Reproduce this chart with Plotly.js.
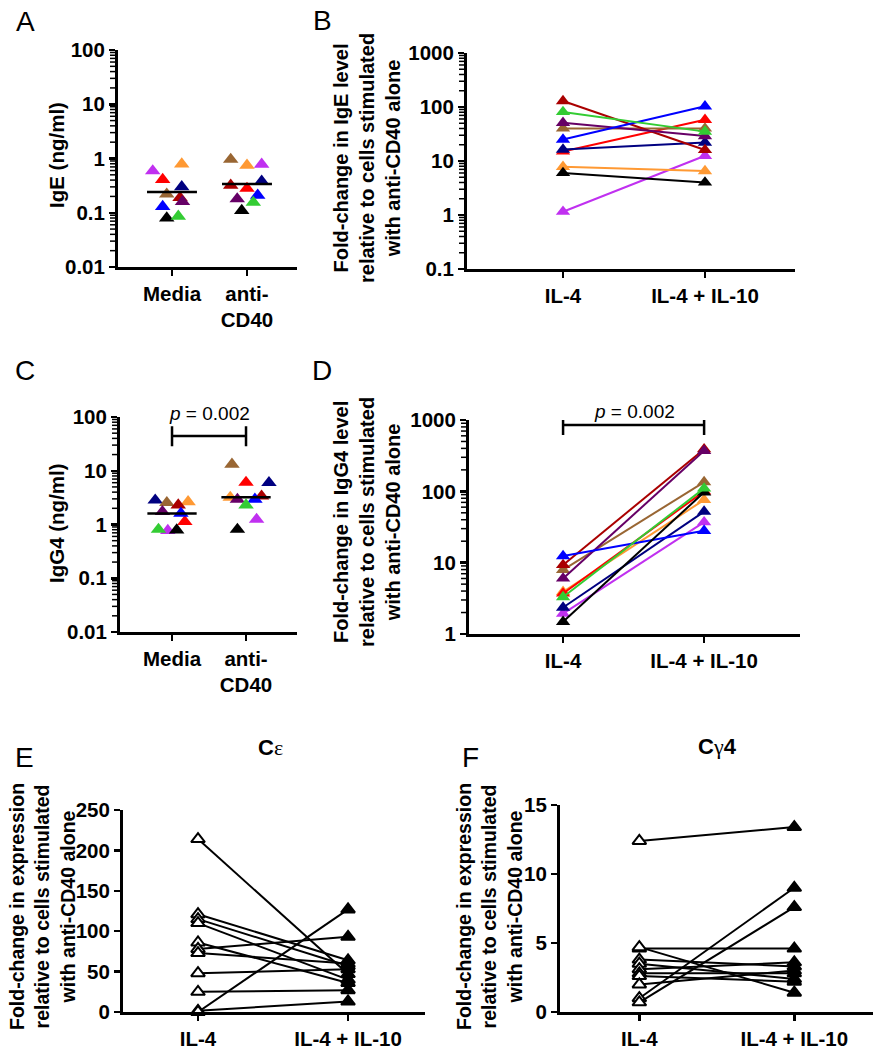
<!DOCTYPE html>
<html>
<head>
<meta charset="utf-8">
<script src="https://cdn.plot.ly/plotly-3.0.1.min.js"></script>
<style>html,body{margin:0;padding:0;background:#fff;}#chart{width:881px;height:1050px;}</style>
</head>
<body>
<div id="chart"></div>
<script>
// ---------- donors (colour per donor, same in panels A-D) ----------
const donorNames  = ['violet','orange','red','navy','brown','darkred','purple','blue','black','green'];
const donorColors = ['#C030F0','#FF9933','#FF0000','#000080','#996633','#AA0000','#660066','#0000FF','#000000','#33CC33'];

// ---------- Panel A: IgE (ng/ml) ----------
const catsAC = ['Media', 'anti-<br>CD40'];
const igeMedia     = [0.59, 0.79, 0.41, 0.30, 0.22, 0.19, 0.16, 0.13, 0.080, 0.086];
const igeMediaJit  = [-0.257, 0.13, -0.124, 0.13, -0.07, 0.107, 0.14, -0.124, -0.07, 0.084];
const igeCD40      = [0.78, 0.75, 0.28, 0.38, 0.96, 0.32, 0.18, 0.21, 0.11, 0.155];
const igeCD40Jit   = [0.196, 0, 0, 0.196, -0.217, -0.217, -0.13, 0.143, -0.07, 0.084];
const igeMedians   = [0.24, 0.34];

// ---------- Panel C: IgG4 (ng/ml) ----------
const igg4Media    = [0.77, 2.65, 1.13, 2.84, 2.54, 2.30, 1.73, 1.61, 0.79, 0.81];
const igg4MediaJit = [-0.057, 0.217, 0.173, -0.227, -0.07, 0.084, -0.13, 0.12, 0.063, -0.183];
const igg4CD40     = [1.24, 3.19, 6.05, 6.0, 13.2, 3.37, 2.93, 2.95, 0.81, 2.30];
const igg4CD40Jit  = [0.143, -0.213, 0, 0.31, -0.19, 0.21, -0.116, 0.12, -0.116, 0];
const igg4Medians  = [1.6, 3.2];
const bracketC     = {low: 28.5, mid: 44.4, high: 67};

// ---------- Panels B & D: fold change ----------
const catsStim = ['IL-4', 'IL-4 + IL-10'];
const igeFoldIL4    = [1.15, 7.8, 15, 16.3, 40, 129, 51, 25, 6.0, 81];
const igeFoldIL410  = [12.5, 6.5, 58, 22, 40, 16, 29, 103, 4.0, 35];
const igg4FoldIL4   = [1.93, 3.9, 3.7, 2.35, 7.9, 9.3, 6.0, 12.4, 1.48, 3.3];
const igg4FoldIL410 = [37, 76, 100, 52, 135, 390, 370, 28, 97, 110];
const bracketD      = {low: 616, mid: 851, high: 1000};

// ---------- Panels E & F: expression fold change ----------
const ceIL4    = [214, 121, 115, 110, 86, 78, 73, 48, 25, 1.5, 0];
const ceIL410  = [47, 64, 57, 40, 36, 93, 60, 53, 27, 13, 127];
const cg4IL4   = [12.4, 4.6, 4.7, 3.8, 3.5, 3.1, 2.8, 2.6, 2.0, 1.0, 0.7];
const cg4IL410 = [13.4, 4.6, 1.4, 3.3, 2.4, 3.6, 2.8, 2.2, 3.0, 9.0, 7.6];

const logTicksA = [0.01, 0.1, 1, 10, 100];
const logTicksB = [0.1, 1, 10, 100, 1000];
const logTicksD = [1, 10, 100, 1000];
const minorDigits = [2, 3, 4, 5, 6, 7, 8, 9];

// ---------- helpers ----------
const W = 881, H = 1050;
const FONT = 'Liberation Sans, Arial, sans-serif';
const TICKSIZE = 20.5;
const px = v => v / W;
const py = v => 1 - v / H;

function minorVals(majors) {
  const out = [];
  majors.slice(0, -1).forEach(m => minorDigits.forEach(d => out.push(+(m * d).toPrecision(3))));
  return out;
}

function yLog(domain, lo, hi, vals, anchor) {
  return {
    domain: domain, anchor: anchor, type: 'log',
    range: [Math.log10(lo), Math.log10(hi)],
    tickmode: 'array', tickvals: vals, ticktext: vals.map(v => String(v)),
    ticks: 'outside', ticklen: 6, tickwidth: 2.5, tickcolor: '#000',
    showline: true, linewidth: 3, linecolor: '#000',
    showgrid: false, zeroline: false,
    tickfont: {family: FONT, size: TICKSIZE, color: '#000', weight: 'bold'},
    fixedrange: true
  };
}
function yLin(domain, lo, hi, dtick, anchor) {
  return {
    domain: domain, anchor: anchor, range: [lo, hi], dtick: dtick, tick0: 0,
    ticks: 'outside', ticklen: 6, tickwidth: 2.5, tickcolor: '#000',
    showline: true, linewidth: 3, linecolor: '#000',
    showgrid: false, zeroline: false,
    tickfont: {family: FONT, size: TICKSIZE, color: '#000', weight: 'bold'},
    fixedrange: true
  };
}
function xCat(domain, range, texts, anchor) {
  return {
    domain: domain, anchor: anchor, range: range,
    tickmode: 'array', tickvals: [1, 2], ticktext: texts,
    ticks: 'outside', ticklen: 6, tickwidth: 2.5, tickcolor: '#000',
    showline: true, linewidth: 3, linecolor: '#000',
    showgrid: false, zeroline: false,
    tickfont: {family: FONT, size: TICKSIZE, color: '#000', weight: 'bold'},
    fixedrange: true
  };
}

const traces = [];

// dot plots (A, C)
function dotPanel(xa, ya, vals1, jit1, vals2, jit2, medians) {
  traces.push({type: 'scatter', mode: 'markers', xaxis: xa, yaxis: ya,
    x: jit1.map(j => 1 + j), y: vals1,
    marker: {symbol: 'triangle-up', size: 13.5, color: donorColors, line: {width: 0}}, cliponaxis: false});
  traces.push({type: 'scatter', mode: 'markers', xaxis: xa, yaxis: ya,
    x: jit2.map(j => 2 + j), y: vals2,
    marker: {symbol: 'triangle-up', size: 13.5, color: donorColors, line: {width: 0}}, cliponaxis: false});
  medians.forEach((m, i) => {
    traces.push({type: 'scatter', mode: 'lines', xaxis: xa, yaxis: ya,
      x: [i + 1 - 0.333, i + 1 + 0.333], y: [m, m],
      line: {color: '#000', width: 2.5}});
  });
}
dotPanel('x', 'y', igeMedia, igeMediaJit, igeCD40, igeCD40Jit, igeMedians);
dotPanel('x3', 'y3', igg4Media, igg4MediaJit, igg4CD40, igg4CD40Jit, igg4Medians);

// paired coloured lines (B, D)
function pairedPanel(xa, ya, a, b) {
  donorNames.forEach((n, i) => {
    traces.push({type: 'scatter', mode: 'lines+markers', xaxis: xa, yaxis: ya,
      x: [1, 2], y: [a[i], b[i]], name: n,
      line: {color: donorColors[i], width: 2},
      marker: {symbol: 'triangle-up', size: 12.5, color: donorColors[i]}, cliponaxis: false});
  });
}
pairedPanel('x2', 'y2', igeFoldIL4, igeFoldIL410);
pairedPanel('x4', 'y4', igg4FoldIL4, igg4FoldIL410);

// brackets
function bracket(xa, ya, b) {
  traces.push({type: 'scatter', mode: 'lines', xaxis: xa, yaxis: ya,
    x: [1, 1, 1, 2, 2, 2], y: [b.high, b.low, b.mid, b.mid, b.high, b.low],
    line: {color: '#000', width: 2.5}});
}
bracket('x3', 'y3', bracketC);
bracket('x4', 'y4', bracketD);

// black paired (E, F)
function bwPanel(xa, ya, a, b) {
  a.forEach((v, i) => {
    traces.push({type: 'scatter', mode: 'lines+markers', xaxis: xa, yaxis: ya,
      x: [1, 2], y: [v, b[i]],
      line: {color: '#000', width: 2},
      marker: {symbol: 'triangle-up', size: 12, color: ['#fff', '#000'], line: {color: '#000', width: 2}},
      cliponaxis: false});
  });
}
bwPanel('x5', 'y5', ceIL4, ceIL410);
bwPanel('x6', 'y6', cg4IL4, cg4IL410);

// ---------- layout ----------
const domA = {x: [px(118), px(297)], y: [py(267), py(50)]};
const domB = {x: [px(467), px(795)], y: [py(269), py(53)]};
const domC = {x: [px(120), px(297)], y: [py(632), py(417)]};
const domD = {x: [px(469), px(800)], y: [py(634), py(420)]};
const layout = {
  width: W, height: H, margin: {l: 0, r: 0, t: 0, b: 0},
  paper_bgcolor: '#fff', plot_bgcolor: 'rgba(0,0,0,0)', showlegend: false,
  font: {family: FONT, color: '#000'},
  xaxis:  xCat(domA.x, [0.28, 2.667], catsAC, 'y'),
  yaxis:  yLog(domA.y, 0.01, 100, logTicksA, 'x'),
  xaxis2: xCat(domB.x, [0.324, 2.634], catsStim, 'y2'),
  yaxis2: yLog(domB.y, 0.1, 1000, logTicksB, 'x2'),
  xaxis3: xCat(domC.x, [0.297, 2.689], catsAC, 'y3'),
  yaxis3: yLog(domC.y, 0.01, 100, logTicksA, 'x3'),
  xaxis4: xCat(domD.x, [0.333, 2.68], catsStim, 'y4'),
  yaxis4: yLog(domD.y, 1, 1000, logTicksD, 'x4'),
  xaxis5: xCat([px(123), px(425)], [0.5, 2.513], catsStim, 'y5'),
  yaxis5: yLin([py(1012), py(810)], 0, 250, 50, 'x5'),
  xaxis6: xCat([px(560), px(873)], [0.488, 2.508], catsStim, 'y6'),
  yaxis6: yLin([py(1012), py(805)], 0, 15, 5, 'x6'),
  annotations: [],
  shapes: []
};

// minor log-axis ticks as paper-space shapes placed on each axis' log scale
function minorTickShapes(dom, lo, hi, majors) {
  const l0 = Math.log10(lo), l1 = Math.log10(hi);
  const xr = dom.x[0];
  minorVals(majors).forEach(v => {
    const y = dom.y[0] + (Math.log10(v) - l0) / (l1 - l0) * (dom.y[1] - dom.y[0]);
    layout.shapes.push({type: 'line', xref: 'paper', yref: 'paper',
      x0: xr - px(8), x1: xr - px(1), y0: y, y1: y,
      line: {color: '#000', width: 1.5}});
  });
}
minorTickShapes(domA, 0.01, 100, logTicksA);
minorTickShapes(domB, 0.1, 1000, logTicksB);
minorTickShapes(domC, 0.01, 100, logTicksA);
minorTickShapes(domD, 1, 1000, logTicksD);

function ann(text, x, y, size, opts) {
  layout.annotations.push(Object.assign({
    text: text, xref: 'paper', yref: 'paper', x: px(x), y: py(y),
    xanchor: 'center', yanchor: 'middle', showarrow: false,
    font: {family: FONT, size: size, color: '#000'}
  }, opts || {}));
}
// panel letters
ann('A', 25, 22, 28); ann('B', 322, 20, 28);
ann('C', 25, 370, 28); ann('D', 322, 370, 28);
ann('E', 24, 757, 28); ann('F', 470, 757, 28);
// axis titles
const foldIgE  = '<b>Fold-change in IgE level<br>relative to cells stimulated<br>with anti-CD40 alone</b>';
const foldIgG4 = '<b>Fold-change in IgG4 level<br>relative to cells stimulated<br>with anti-CD40 alone</b>';
const foldExpr = '<b>Fold-change in expression<br>relative to cells stimulated<br>with anti-CD40 alone</b>';
ann('<b>IgE (ng/ml)</b>', 56, 155, 20.5, {textangle: -90});
ann('<b>IgG4 (ng/ml)</b>', 56, 523, 20.5, {textangle: -90});
ann(foldIgE, 367, 158, 20, {textangle: -90});
ann(foldIgG4, 367, 522, 20, {textangle: -90});
ann(foldExpr, 42, 907, 19.5, {textangle: -90});
ann(foldExpr, 489, 907, 19.5, {textangle: -90});
// p values
ann('<i>p</i> = 0.002', 209, 413, 19);
ann('<i>p</i> = 0.002', 634, 411, 19);
// gene titles
ann('<b>C</b><span style="font-family:Liberation Serif">ε</span>', 270, 747, 22);
ann('<b>C</b><span style="font-family:Liberation Serif">γ</span><b>4</b>', 717, 746, 22);

Plotly.newPlot('chart', traces, layout, {displayModeBar: false, staticPlot: true});
</script>
</body>
</html>
